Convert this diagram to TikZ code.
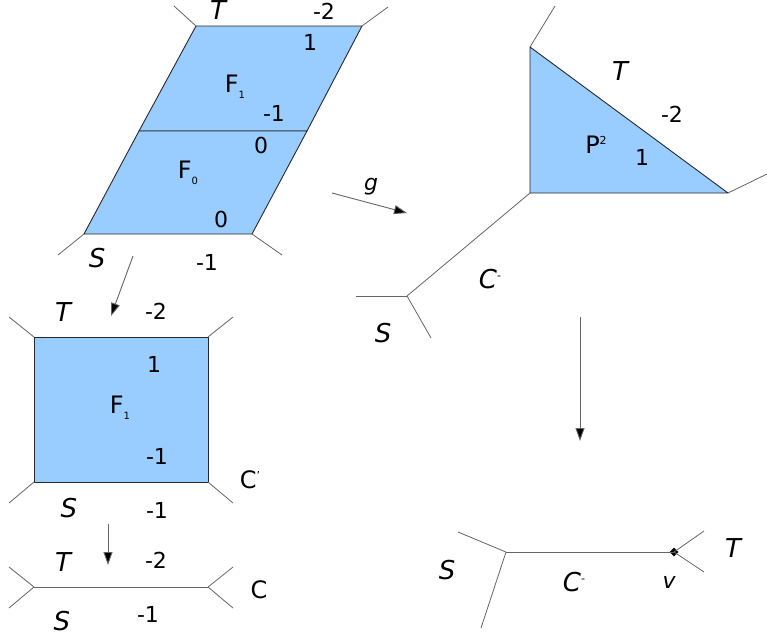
\documentclass[tikz,border=0pt]{standalone}
\usepackage{fontspec}
\setmainfont{DejaVu Sans}
\usepackage{xcolor}
\definecolor{faceblue}{RGB}{153,204,255}
\definecolor{edgegray}{RGB}{40,40,40}
\definecolor{leggray}{RGB}{100,100,100}
\usetikzlibrary{arrows.meta,shapes.geometric}

\newcommand{\tsub}[1]{\raisebox{-6pt}{\fontsize{10}{10}\selectfont #1}}
\newcommand{\tsup}[1]{\raisebox{9pt}{\fontsize{11}{11}\selectfont #1}}

\begin{document}
\begin{tikzpicture}[x=1pt, y=-1pt,
        face/.style={fill=faceblue, draw=edgegray, line width=0.9pt, line join=round},
        leg/.style={draw=leggray, line width=0.8pt},
        num/.style={font=\fontsize{22}{22}\selectfont, inner sep=0pt},
        var/.style={font=\fontsize{26}{26}\selectfont\itshape, inner sep=0pt},
        sym/.style={font=\fontsize{24}{24}\selectfont, inner sep=0pt},
        arr/.style={-{Triangle[length=13pt, width=9pt, fill=black]}, draw=leggray, line width=0.9pt}
      ]
        \useasboundingbox (0,0) rectangle (767,637);

        % F_1 over F_0 (top left)
        \coordinate (pa) at (196,26);
        \coordinate (pb) at (362,26);
        \coordinate (pc) at (307,131);
        \coordinate (pd) at (139,131);
        \coordinate (pe) at (252,234);
        \coordinate (pf) at (84,234);
        \filldraw[face] (pa) -- (pb) -- (pc) -- (pd) -- cycle;
        \filldraw[face] (pd) -- (pc) -- (pe) -- (pf) -- cycle;
        \draw[leg] (pa) -- (174,6);
        \draw[leg] (pb) -- (388,7);
        \draw[leg] (pf) -- (58,255);
        \draw[leg] (pe) -- (282,255);
        \node[var] (pT) at (218,10) {T};
        \node[num] (pm2) at (324,11) {-2};
        \node[num] (p1) at (310,42) {1};
        \node[sym] (pF1) at (235,87) {F\tsub{1}};
        \node[num] (pm1) at (274,113) {-1};
        \node[num] (p0a) at (261,145) {0};
        \node[sym] (pF0) at (188,173) {F\tsub{0}};
        \node[num] (p0b) at (221,219) {0};
        \node[var] (pS) at (97,258) {S};
        \node[num] (pm1b) at (207,262) {-1};

        % P^2 (top right)
        \coordinate (ta) at (530,47);
        \coordinate (tb) at (530,193);
        \coordinate (tc) at (728,193);
        \coordinate (tv) at (407,296);
        \filldraw[face] (ta) -- (tb) -- (tc) -- cycle;
        \draw[leg] (ta) -- (555,6);
        \draw[leg] (tc) -- (767,174);
        \draw[leg] (tb) -- (tv);
        \draw[leg] (tv) -- (356,296);
        \draw[leg] (tv) -- (431,338);
        \node[var] (tT) at (620,71) {T};
        \node[num] (tm2) at (672,114) {-2};
        \node[sym] (tP) at (596,145) {P\tsup{2}};
        \node[num] (t1) at (642,157) {1};
        \node[var] (tC) at (490,279) {C\tsup{-}};
        \node[var] (tS) at (383,333) {S};

        % F_1 alone (middle left)
        \coordinate (qa) at (34,337);
        \coordinate (qb) at (208,337);
        \coordinate (qc) at (208,482);
        \coordinate (qd) at (34,482);
        \filldraw[face] (qa) -- (qb) -- (qc) -- (qd) -- cycle;
        \draw[leg] (qa) -- (9,317);
        \draw[leg] (qb) -- (233,317);
        \draw[leg] (qd) -- (9,503);
        \draw[leg] (qc) -- (233,503);
        \node[var] (qT) at (63,312) {T};
        \node[num] (qm2) at (156,311) {-2};
        \node[num] (q1) at (154,364) {1};
        \node[sym] (qF1) at (120,408) {F\tsub{1}};
        \node[num] (qm1) at (157,456) {-1};
        \node[sym] (qC) at (250,480) {C\tsup{'}};
        \node[var] (qS) at (69,508) {S};
        \node[num] (qm1b) at (157,510) {-1};

        % contracted curve (bottom left)
        \coordinate (la) at (34,587);
        \coordinate (lb) at (208,587);
        \draw[leg] (la) -- (lb);
        \draw[leg] (la) -- (9,567);
        \draw[leg] (la) -- (9,608);
        \draw[leg] (lb) -- (233,567);
        \draw[leg] (lb) -- (233,608);
        \node[var] (lT) at (63,562) {T};
        \node[num] (lm2) at (156,560) {-2};
        \node[sym] (lC) at (259,590) {C};
        \node[var] (lS) at (62,621) {S};
        \node[num] (lm1) at (148,614) {-1};

        % tropical curve with vertex v (bottom right)
        \coordinate (ra) at (506,552);
        \node[diamond, fill=black, inner sep=0pt, minimum size=9pt] (rv) at (674,552) {};
        \draw[leg] (ra) -- (rv.center);
        \draw[leg] (ra) -- (458,532);
        \draw[leg] (ra) -- (481,628);
        \draw[leg] (rv.center) -- (704,531);
        \draw[leg] (rv.center) -- (704,572);
        \node[var] (rS) at (447,570) {S};
        \node[var] (rC) at (574,582) {C\tsup{-}};
        \node[var, font=\fontsize{22}{22}\selectfont\itshape] (rvl) at (669,582) {v};
        \node[var] (rT) at (733,548) {T};

        % maps
        \coordinate (g0) at (332,193);
        \coordinate (g1) at (407,213);
        \draw[arr] (g0) -- (g1);
        \node[var, font=\fontsize{22}{22}\selectfont\itshape] (gl) at (371,187) {g};
        \coordinate (d0) at (133,256);
        \coordinate (d1) at (111,316);
        \draw[arr] (d0) -- (d1);
        \coordinate (e0) at (108,524);
        \coordinate (e1) at (108,565);
        \draw[arr] (e0) -- (e1);
        \coordinate (h0) at (580,317);
        \coordinate (h1) at (580,441);
        \draw[arr] (h0) -- (h1);
      \end{tikzpicture}
\end{document}
